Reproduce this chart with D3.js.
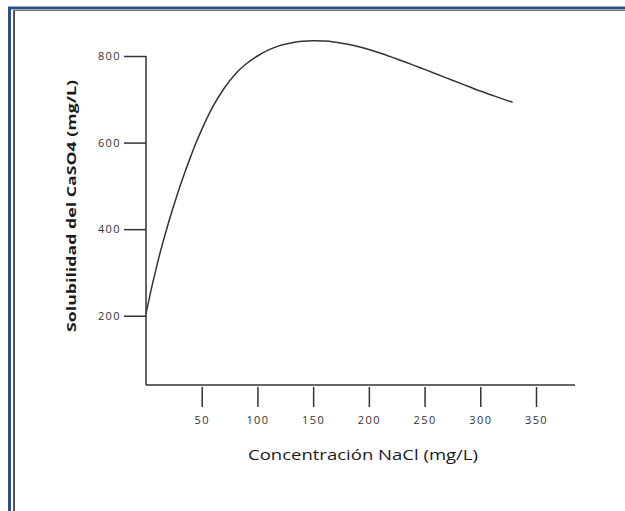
<!DOCTYPE html>
<html><head><meta charset="utf-8">
<script src="https://cdnjs.cloudflare.com/ajax/libs/d3/7.8.5/d3.min.js"></script>
<style>
html,body{margin:0;padding:0;background:#fff;}
svg{display:block;}
</style></head>
<body>
<script>
// Data
const nacl = [0, 4, 8, 12, 16, 20, 25, 30, 35, 40, 45, 50, 60, 70, 80, 90, 100, 110, 120, 130, 140, 150, 160, 170, 180, 190, 200, 210, 220, 230, 240, 250, 260, 270, 280, 290, 300, 310, 320, 329];
const solubilidad = [205, 253, 297, 339, 377, 413, 455, 495, 532, 567, 600, 630, 683, 725, 758, 782, 800, 814, 824, 830, 834, 835, 834.5, 832, 827.5, 822, 815, 807, 798, 788.5, 779, 769, 759, 749, 739, 729, 719, 710, 701, 693];
const xTicks = [50, 100, 150, 200, 250, 300, 350];
const yTicks = [200, 400, 600, 800];
const xTitle = "Concentración NaCl (mg/L)";
const yTitle = "Solubilidad del CaSO4 (mg/L)";

const W = 625, H = 511;
const svg = d3.select("body").append("svg").attr("width", W).attr("height", H);

// frame
svg.append("rect").attr("x", 9.5).attr("y", 8).attr("width", 640).attr("height", 520)
  .attr("fill", "none").attr("stroke", "#2c5086").attr("stroke-width", 3);
svg.append("line").attr("x1", 14).attr("x2", 14).attr("y1", 10).attr("y2", H)
  .attr("stroke", "#555").attr("stroke-width", 2);
svg.append("line").attr("x1", 13).attr("x2", W).attr("y1", 10.5).attr("y2", 10.5)
  .attr("stroke", "#777").attr("stroke-width", 1);

const x = d3.scaleLinear().domain([0, 385]).range([146, 575]);
const y = d3.scaleLinear().domain([40, 800]).range([385, 56]);

const axisColor = "#333";
const tickFont = "'Open Sans', sans-serif";

// x axis domain line
svg.append("line").attr("x1", x(0)).attr("x2", x(385)).attr("y1", y(40)).attr("y2", y(40))
  .attr("stroke", axisColor).attr("stroke-width", 1.5);
// y axis domain line
svg.append("line").attr("x1", x(0)).attr("x2", x(0)).attr("y1", y(800)).attr("y2", y(40))
  .attr("stroke", axisColor).attr("stroke-width", 1.5);

// x axis ticks
const gx = svg.append("g").attr("transform", `translate(0,${y(40) + 2})`)
  .call(d3.axisBottom(x).tickValues(xTicks).tickSize(20).tickSizeOuter(0).tickPadding(9));
gx.select(".domain").remove();
gx.selectAll(".tick line").attr("stroke", axisColor).attr("stroke-width", 1.5);
gx.selectAll(".tick text").attr("fill", "#333").style("font-family", tickFont)
  .style("font-size", "11px").style("letter-spacing", "1.4px");

// y axis ticks
const gy = svg.append("g").attr("transform", `translate(${x(0)},0)`)
  .call(d3.axisLeft(y).tickValues(yTicks).tickSize(22).tickSizeOuter(0).tickPadding(3));
gy.select(".domain").remove();
gy.selectAll(".tick line").attr("stroke", axisColor).attr("stroke-width", 1.5);
gy.selectAll(".tick text").attr("fill", "#333").style("font-family", tickFont)
  .style("font-size", "11px").style("letter-spacing", "1.4px");

// curve
const pts = nacl.map((v, i) => [v, solubilidad[i]]);
const line = d3.line().x(d => x(d[0])).y(d => y(d[1])).curve(d3.curveMonotoneX);
svg.append("path").datum(pts).attr("d", line).attr("fill", "none")
  .attr("stroke", "#333").attr("stroke-width", 1.5);

// titles
svg.append("text").attr("x", 363).attr("y", 460).attr("text-anchor", "middle")
  .style("font-family", "'Open Sans', sans-serif").style("font-size", "14.5px").attr("fill", "#1a1a1a")
  .attr("textLength", 230).attr("lengthAdjust", "spacingAndGlyphs")
  .text(xTitle);
svg.append("text").attr("transform", "translate(76,206) rotate(-90)").attr("text-anchor", "middle")
  .style("font-family", "'Open Sans', sans-serif").style("font-size", "13px").style("font-weight", "bold")
  .attr("fill", "#1a1a1a").attr("textLength", 252).attr("lengthAdjust", "spacingAndGlyphs")
  .text(yTitle);
</script>
</body></html>
